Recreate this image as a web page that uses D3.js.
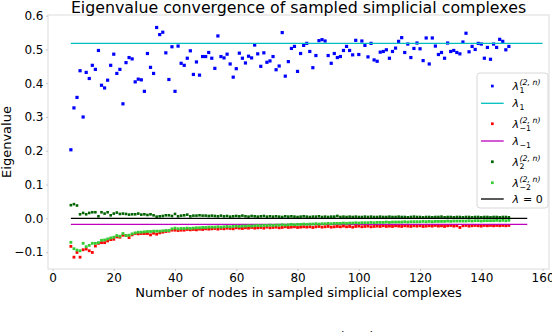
<!DOCTYPE html>
<html>
<head>
<meta charset="utf-8">
<script src="https://cdn.jsdelivr.net/npm/d3@7"></script>
<style>
  body { margin: 0; background: #fff; }
  text { font-family: "DejaVu Sans", sans-serif; }
</style>
</head>
<body>
<svg id="chart" width="552" height="332"></svg>
<script>
// sampled complexes have n = 6, 7, ..., 149 nodes
const firstNode = 6;

// lambda_1^(2,n)
const lambda1Sampled = [
  0.203, 0.327, 0.358, 0.437, 0.300, 0.432, 0.414, 0.453, 0.441, 0.497,
  0.394, 0.386, 0.409, 0.453, 0.486, 0.429, 0.441, 0.339, 0.461, 0.476,
  0.472, 0.404, 0.412, 0.410, 0.376, 0.488, 0.447, 0.429, 0.565, 0.544,
  0.551, 0.490, 0.411, 0.508, 0.376, 0.510, 0.459, 0.453, 0.474, 0.496,
  0.426, 0.463, 0.424, 0.479, 0.479, 0.491,
  0.474, 0.444, 0.540, 0.479, 0.475, 0.486, 0.457, 0.418, 0.443, 0.489,
  0.474, 0.460, 0.480, 0.475, 0.513, 0.487, 0.450, 0.490, 0.462, 0.466,
  0.479, 0.440, 0.451, 0.550, 0.421, 0.464, 0.503, 0.509, 0.435, 0.488,
  0.512, 0.518, 0.494, 0.446, 0.482, 0.526, 0.529, 0.525, 0.482, 0.459,
  0.488, 0.476, 0.479, 0.497, 0.509, 0.497, 0.484, 0.527, 0.485,
  0.525, 0.512, 0.478, 0.518, 0.469, 0.465, 0.492, 0.494, 0.499, 0.474,
  0.494, 0.504, 0.524, 0.535, 0.491, 0.516, 0.476, 0.503, 0.519, 0.502,
  0.467, 0.534, 0.457, 0.534, 0.510, 0.485, 0.491, 0.474, 0.519, 0.494,
  0.497, 0.491, 0.487, 0.522, 0.548, 0.493, 0.509, 0.500, 0.518, 0.516,
  0.474, 0.506, 0.471, 0.516, 0.506, 0.530, 0.524, 0.499, 0.509
];

// lambda_-1^(2,n)
const lambdaM1Sampled = [
  -0.083, -0.115, -0.101, -0.115, -0.093, -0.091, -0.096, -0.101, -0.082, -0.074,
  -0.072, -0.072, -0.067, -0.063, -0.062, -0.055, -0.056, -0.050, -0.051, -0.057,
  -0.049, -0.045, -0.046, -0.045, -0.045, -0.045, -0.049, -0.044, -0.047, -0.043,
  -0.041, -0.039, -0.038, -0.035, -0.035, -0.036, -0.035, -0.035, -0.033, -0.034,
  -0.033, -0.034, -0.032, -0.033, -0.031, -0.032, -0.031,
  -0.030, -0.032, -0.030, -0.031, -0.029, -0.030, -0.031, -0.028, -0.029, -0.030,
  -0.028, -0.029, -0.027, -0.029, -0.028, -0.027, -0.029, -0.026, -0.028, -0.027,
  -0.026, -0.028, -0.027, -0.025, -0.027, -0.026, -0.025, -0.027, -0.026, -0.025,
  -0.026, -0.025, -0.027, -0.025, -0.024, -0.026, -0.025, -0.024, -0.026, -0.025,
  -0.024, -0.025, -0.023, -0.025, -0.024, -0.026, -0.024, -0.023, -0.025, -0.024,
  -0.023, -0.025, -0.024, -0.023, -0.024, -0.022, -0.024, -0.023, -0.024, -0.022,
  -0.023, -0.024, -0.022, -0.023, -0.024, -0.022, -0.023, -0.022, -0.024, -0.023,
  -0.022, -0.023, -0.021, -0.023, -0.022, -0.024, -0.022, -0.021, -0.023, -0.022,
  -0.027, -0.022, -0.021, -0.023, -0.022, -0.021, -0.022, -0.023, -0.021, -0.022,
  -0.021, -0.022, -0.021, -0.022, -0.021, -0.022, -0.021
];

// lambda_2^(2,n)
const lambda2Sampled = [
  0.039, 0.042, 0.038, 0.012, 0.016, 0.012, 0.016, 0.018, 0.018, 0.006,
  0.018, 0.014, 0.018, 0.009, 0.014, 0.017, 0.013, 0.014, 0.013, 0.011,
  0.012, 0.012, 0.014, 0.011, 0.012, 0.010, 0.012, 0.009, 0.005, 0.006,
  0.007, 0.009, 0.009, 0.007, 0.013, 0.006, 0.008, 0.009, 0.011, 0.006,
  0.008, 0.008, 0.009, 0.008, 0.008, 0.007, 0.008,
  0.007, 0.006, 0.008, 0.006, 0.007, 0.005, 0.006, 0.007, 0.006, 0.008,
  0.006, 0.005, 0.007, 0.006, 0.005, 0.006, 0.007, 0.005, 0.006, 0.005,
  0.006, 0.005, 0.004, 0.006, 0.005, 0.006, 0.005, 0.004, 0.005, 0.006,
  0.005, 0.004, 0.005, 0.005, 0.006, 0.004, 0.005, 0.004, 0.005, 0.005,
  0.007, 0.004, 0.005, 0.004, 0.005, 0.004, 0.005, 0.004, 0.004, 0.005,
  0.004, 0.005, 0.004, 0.004, 0.005, 0.004, 0.004, 0.005, 0.004, 0.004,
  0.005, 0.004, 0.004, 0.003, 0.004, 0.005, 0.004, 0.004, 0.003, 0.004,
  0.004, 0.003, 0.004, 0.004, 0.005, 0.003, 0.004, 0.004, 0.003, 0.004,
  0.004, 0.003, 0.004, 0.004, 0.003, 0.004, 0.004, 0.003, 0.004, 0.004,
  0.003, 0.004, 0.004, 0.003, 0.004, 0.004, 0.003
];

// lambda_-2^(2,n)
const lambdaM2Sampled = [
  -0.071, -0.090, -0.094, -0.096, -0.074, -0.084, -0.080, -0.074, -0.074, -0.072,
  -0.065, -0.064, -0.061, -0.058, -0.056, -0.051, -0.053, -0.045, -0.051, -0.050,
  -0.046, -0.043, -0.041, -0.041, -0.040, -0.039, -0.039, -0.038, -0.038, -0.038,
  -0.037, -0.036, -0.036, -0.031, -0.029, -0.031, -0.030, -0.030, -0.029, -0.030,
  -0.029, -0.028, -0.028, -0.027, -0.027, -0.026, -0.026,
  -0.026, -0.025, -0.026, -0.025, -0.024, -0.025, -0.024, -0.023, -0.024, -0.023,
  -0.023, -0.022, -0.023, -0.022, -0.021, -0.022, -0.021, -0.021, -0.020, -0.021,
  -0.020, -0.020, -0.019, -0.020, -0.019, -0.018, -0.019, -0.018, -0.018, -0.017,
  -0.018, -0.017, -0.017, -0.016, -0.017, -0.016, -0.016, -0.015, -0.016, -0.015,
  -0.015, -0.015, -0.014, -0.015, -0.014, -0.014, -0.013, -0.014, -0.013, -0.013,
  -0.013, -0.012, -0.013, -0.012, -0.012, -0.012, -0.011, -0.012, -0.011, -0.011,
  -0.011, -0.011, -0.010, -0.011, -0.010, -0.010, -0.010, -0.010, -0.009, -0.010,
  -0.009, -0.010, -0.009, -0.009, -0.009, -0.009, -0.008, -0.009, -0.008, -0.008,
  -0.008, -0.008, -0.008, -0.007, -0.008, -0.007, -0.007, -0.008, -0.007, -0.007,
  -0.007, -0.007, -0.006, -0.007, -0.006, -0.007, -0.006
];

// reference eigenvalues, drawn as horizontal lines
const lambda1 = 0.518;
const lambdaM1 = -0.018;
const lambda1Span = [6, 160];
const refSpan = [6, 155];

const xTicks = [0, 20, 40, 60, 80, 100, 120, 140, 160];
const yTicks = [-0.1, 0.0, 0.1, 0.2, 0.3, 0.4, 0.5, 0.6];

const svg = d3.select("#chart");
const margin = {top: 15, right: 3, bottom: 63, left: 48};
const width = 552 - margin.left - margin.right;
const height = 332 - margin.top - margin.bottom;

const x = d3.scaleLinear().domain([-1.47, 162.1]).range([0, width]);
const y = d3.scaleLinear().domain([-0.15, 0.602]).range([height, 0]);

const g = svg.append("g")
    .attr("transform", "translate(" + margin.left + "," + margin.top + ")");

// light frame
g.append("rect")
    .attr("width", width).attr("height", height)
    .attr("fill", "none").attr("stroke", "#dcdcdc");

// axes
const fmtY = v => d3.format(".1f")(v).replace("-", "\u2212");
const xAxis = g.append("g")
    .attr("transform", "translate(0," + height + ")")
    .call(d3.axisBottom(x).tickValues(xTicks).tickSize(2).tickPadding(2.2));
const yAxis = g.append("g")
    .call(d3.axisLeft(y).tickValues(yTicks).tickFormat(fmtY).tickSize(2).tickPadding(2.5));
[xAxis, yAxis].forEach(a => {
    a.select(".domain").remove();
    a.selectAll("line").attr("stroke", "#c8c8c8");
    a.selectAll("text").attr("font-size", 12).attr("fill", "#000")
        .attr("font-family", "DejaVu Sans, sans-serif");
});

const toPoints = vals => vals.map((v, i) => ({n: firstNode + i, v: v}));

function scatter(vals, color, size) {
    g.append("g").selectAll("rect")
        .data(toPoints(vals))
        .enter().append("rect")
        .attr("x", d => x(d.n) - size / 2)
        .attr("y", d => y(d.v) - size / 2)
        .attr("width", size).attr("height", size)
        .attr("fill", color);
}

function hline(value, span, color) {
    g.append("line")
        .attr("x1", x(span[0])).attr("x2", x(span[1]))
        .attr("y1", y(value)).attr("y2", y(value))
        .attr("stroke", color).attr("stroke-width", 1.3);
}

const colors = {
    l1: "#0000ff", ref1: "#00bfbf", lm1: "#ff0000", refm1: "#bf00bf",
    l2: "#006400", lm2: "#32cd32", zero: "#000000"
};

scatter(lambda1Sampled, colors.l1, 3.2);
hline(lambda1, lambda1Span, colors.ref1);
scatter(lambdaM1Sampled, colors.lm1, 2.8);
hline(lambdaM1, refSpan, colors.refm1);
scatter(lambda2Sampled, colors.l2, 2.6);
scatter(lambdaM2Sampled, colors.lm2, 2.8);
hline(0, refSpan, colors.zero);

// title and axis labels
svg.append("text")
    .attr("x", margin.left + width / 2).attr("y", 12.5)
    .attr("text-anchor", "middle").attr("font-size", 15.8)
    .text("Eigenvalue convergence of sampled simplicial complexes");

svg.append("text")
    .attr("x", margin.left + width / 2).attr("y", 296.5)
    .attr("text-anchor", "middle").attr("font-size", 13)
    .text("Number of nodes in sampled simplicial complexes");

svg.append("text")
    .attr("transform", "translate(10.5," + (margin.top + height / 2) + ") rotate(-90)")
    .attr("text-anchor", "middle").attr("font-size", 13)
    .text("Eigenvalue");

// cut-off caption below the figure
svg.append("text")
    .attr("x", 357).attr("y", 340.5)
    .attr("text-anchor", "middle").attr("font-size", 13)
    .text("(2, n)");

// legend
const legendItems = [
    {kind: "marker", color: colors.l1, sub: "1", sup: "(2, n)", y: 86},
    {kind: "line", color: colors.ref1, sub: "1", y: 103.3},
    {kind: "marker", color: colors.lm1, sub: "\u22121", sup: "(2, n)", y: 123.7},
    {kind: "line", color: colors.refm1, sub: "\u22121", y: 141},
    {kind: "marker", color: colors.l2, sub: "2", sup: "(2, n)", y: 161.7},
    {kind: "marker", color: colors.lm2, sub: "\u22122", sup: "(2, n)", y: 182.7},
    {kind: "line", color: colors.zero, text: "\u00a0=\u00a00", y: 199}
];

const legend = svg.append("g");
legend.append("rect")
    .attr("x", 477).attr("y", 73).attr("width", 71).attr("height", 135)
    .attr("rx", 3)
    .attr("fill", "#fff").attr("fill-opacity", 0.8)
    .attr("stroke", "#d8d8d8");

legendItems.forEach(it => {
    if (it.kind === "marker") {
        legend.append("rect")
            .attr("x", 491).attr("y", it.y - 1.3)
            .attr("width", 2.7).attr("height", 2.7)
            .attr("fill", it.color);
    } else {
        legend.append("line")
            .attr("x1", 481).attr("x2", 503.7)
            .attr("y1", it.y).attr("y2", it.y)
            .attr("stroke", it.color).attr("stroke-width", 1.3);
    }
    const base = it.y + 4;
    const lam = legend.append("text")
        .attr("x", 512.5).attr("y", base)
        .attr("font-size", 11).attr("font-style", "italic")
        .text("\u03bb");
    const lx = 512.5 + lam.node().getComputedTextLength() + 0.5;
    if (it.text) {
        legend.append("text").attr("x", lx).attr("y", base)
            .attr("font-size", 11).text(it.text);
    }
    if (it.sub) {
        legend.append("text").attr("x", lx).attr("y", base + 3)
            .attr("font-size", 7.8).text(it.sub);
    }
    if (it.sup) {
        legend.append("text").attr("x", lx).attr("y", base - 5)
            .attr("font-size", 7.8).attr("font-style", "italic").text(it.sup);
    }
});
</script>
</body>
</html>
